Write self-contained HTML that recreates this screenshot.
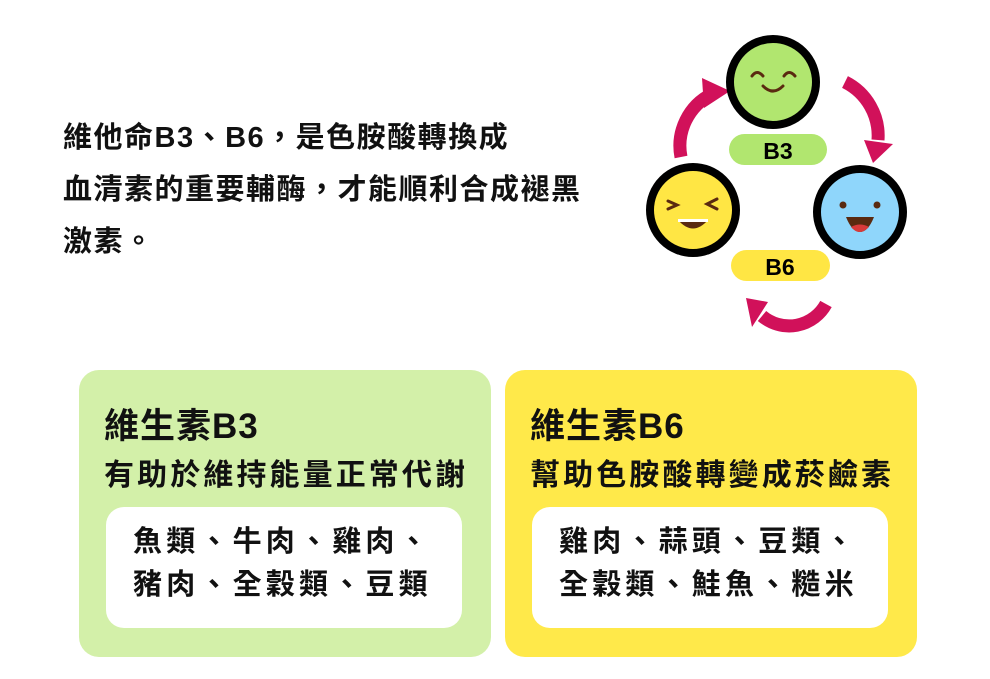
<!DOCTYPE html>
<html><head><meta charset="utf-8"><style>
body{margin:0;width:990px;height:679px;background:#fff;position:relative;overflow:hidden;font-family:"Liberation Sans","Noto Sans CJK TC",sans-serif;font-weight:bold;color:#111}
.a{position:absolute;white-space:nowrap}
.p{left:63px;font-size:29px;line-height:52px;top:112px;letter-spacing:1.5px}
.card{position:absolute;top:370px;width:412px;height:287px;border-radius:20px}
.box{position:absolute;left:27px;top:137px;width:356px;height:121px;background:#fff;border-radius:18px}
.t{left:25px;top:28px;font-size:35px;letter-spacing:1px}
.s{left:25px;top:80px;font-size:30px;letter-spacing:3.1px}
.i{left:27px;top:14px;font-size:29px;line-height:43px;letter-spacing:4.2px}
</style></head><body>
<div class="a p">維他命B3、B6，是色胺酸轉換成<br>血清素的重要輔酶，才能順利合成褪黑<br>激素。</div>

<svg class="a" style="left:0;top:0" width="990" height="360">
<g fill="none" stroke="#d1115a" stroke-width="13">
<path d="M681 157 A58 58 0 0 1 712 94"/>
<path d="M845 82 A60 60 0 0 1 878 140"/>
<path d="M826 304 A42 42 0 0 1 762 316"/>
</g>
<g fill="#d1115a">
<polygon points="702,78 730,91 704,108"/>
<polygon points="864,140 893,144 873,163"/>
<polygon points="746,298 768,302 752,327"/>
</g>
<circle cx="773" cy="82" r="43" fill="#b1e66f" stroke="#000" stroke-width="8"/>
<circle cx="693" cy="210" r="43" fill="#ffe644" stroke="#000" stroke-width="8"/>
<circle cx="860" cy="212" r="43" fill="#8fd6fb" stroke="#000" stroke-width="8"/>
<g fill="none" stroke="#5a2a10" stroke-width="3" stroke-linecap="round">
<path d="M752 76 Q757 69 763 76"/><path d="M784 76 Q789 69 795 76"/>
<path d="M763 86 Q773 96 783 86"/>
<path d="M668 201 L677 205 L668 209"/><path d="M717 199 L707 204 L717 209"/>
</g>
<path d="M678 220 Q693 237 708 220 Z" fill="#5a2a10"/>
<rect x="678" y="219" width="30" height="3" fill="#fff"/>
<circle cx="843" cy="205" r="3.5" fill="#5a2a10"/><circle cx="877" cy="205" r="3.5" fill="#5a2a10"/>
<path d="M846 217 L874 217 Q868 232 860 232 Q852 232 846 217 Z" fill="#5a2a10"/>
<path d="M851 227 Q860 222 869 227 Q864 232 860 232 Q855 232 851 227Z" fill="#d83a3a"/>
<rect x="729" y="134" width="98" height="31" rx="15.5" fill="#b1e66f"/>
<rect x="731" y="250" width="99" height="31" rx="15.5" fill="#ffe644"/>
<text x="778" y="159" font-size="23" text-anchor="middle" font-weight="bold" font-family="Liberation Sans,sans-serif">B3</text>
<text x="780" y="275" font-size="23" text-anchor="middle" font-weight="bold" font-family="Liberation Sans,sans-serif">B6</text>
</svg>

<div class="card" style="left:79px;background:#d3f0a9">
<div class="a t">維生素B3</div>
<div class="a s">有助於維持能量正常代謝</div>
<div class="box"><div class="a i">魚類、牛肉、雞肉、<br>豬肉、全穀類、豆類</div></div>
</div>
<div class="card" style="left:505px;background:#ffe94a">
<div class="a t">維生素B6</div>
<div class="a s">幫助色胺酸轉變成菸鹼素</div>
<div class="box"><div class="a i">雞肉、蒜頭、豆類、<br>全穀類、鮭魚、糙米</div></div>
</div>
</body></html>
